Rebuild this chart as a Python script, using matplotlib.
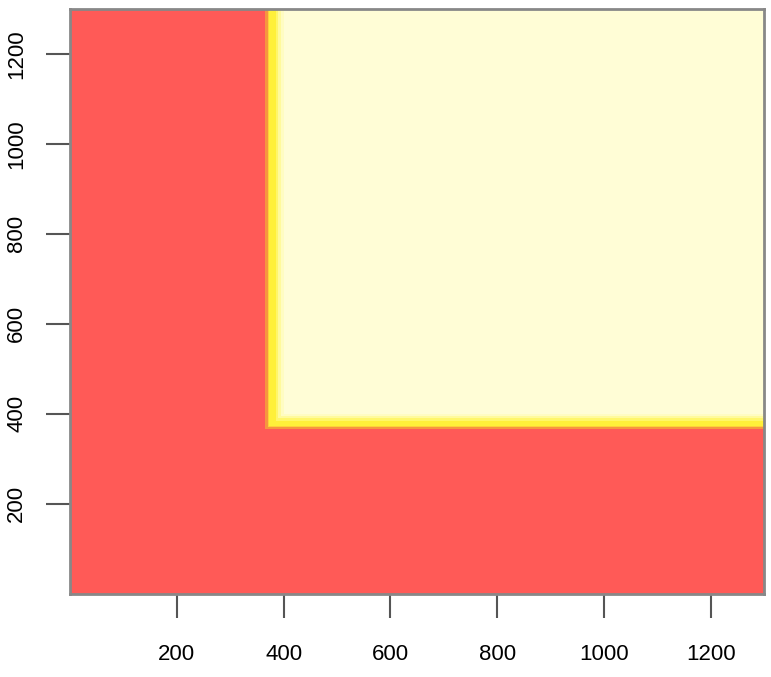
import numpy as np
import matplotlib
matplotlib.use("Agg")
import matplotlib.pyplot as plt
from matplotlib.colors import ListedColormap, BoundaryNorm

plt.rcParams["font.family"] = ["Liberation Sans", "DejaVu Sans"]

# grid edges (same on both axes)
grid_lo = 0
grid_hi = 1300
grid_step = 2.5

# colour bands of the surface, indexed by min(x, y)
band_edges = [0, 366, 369, 373, 385, 391, 396, 401, 1300]
band_colors = ["#ff5a57", "#f6963f", "#ffd03a", "#fff03a", "#fff66a",
               "#fffa9c", "#fffcc2", "#fffdd6"]

xticks = [200, 400, 600, 800, 1000, 1200]
yticks = [200, 400, 600, 800, 1000, 1200]

edges = np.arange(grid_lo, grid_hi + grid_step, grid_step)
centers = (edges[:-1] + edges[1:]) / 2
X, Y = np.meshgrid(centers, centers)
Z = np.minimum(X, Y)

fig = plt.figure(figsize=(7.71, 6.77), dpi=100)
ax = fig.add_axes([0.091, 0.123, 0.900, 0.864])

cmap = ListedColormap(band_colors)
norm = BoundaryNorm(band_edges, cmap.N)
ax.pcolormesh(edges, edges, Z, cmap=cmap, norm=norm, shading="flat")

ax.set_xlim(grid_lo, grid_hi)
ax.set_ylim(grid_lo, grid_hi)
ax.set_xticks(xticks)
ax.set_yticks(yticks)
ax.set_xticklabels([str(t) for t in xticks], fontsize=16)
ax.set_yticklabels([str(t) for t in yticks], fontsize=16, rotation=90, va="center")
ax.tick_params(axis="x", length=17, width=1.5, color="#555555", pad=19)
ax.tick_params(axis="y", length=17, width=1.5, color="#555555", pad=14)
for s in ax.spines.values():
    s.set_color("#888888")
    s.set_linewidth(2)

fig.savefig("out.png", dpi=100)
